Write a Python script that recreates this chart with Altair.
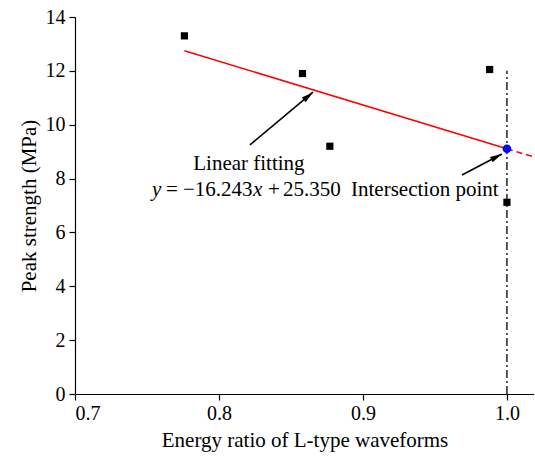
import math
import altair as alt
import pandas as pd

# ---- data ----
ratio = [0.776, 0.858, 0.877, 0.988, 1.000]
strength = [13.3, 11.9, 9.2, 12.05, 7.12]

slope = -16.243
intercept = 25.350
fit_x_solid = [0.776, 1.000]
fit_x_dash = [1.000, 1.0175]
intersect_x = [1.000]
vline_y = [0, 12.0]

x_ticks = [0.7, 0.8, 0.9, 1.0]
y_ticks = [0, 2, 4, 6, 8, 10, 12, 14]

FONT = "Liberation Serif"
X_DOM = [0.7, 1.0188]
Y_DOM = [0, 14]
W, H = 459, 377
px_x = W / (X_DOM[1] - X_DOM[0])
px_y = H / (Y_DOM[1] - Y_DOM[0])

xs = alt.Scale(domain=X_DOM, nice=False, zero=False)
ys = alt.Scale(domain=Y_DOM, nice=False)

xaxis = alt.Axis(values=x_ticks, format=".1f", title="Energy ratio of L-type waveforms",
                 grid=False, tickSize=6, labelPadding=3, titlePadding=6)
yaxis = alt.Axis(values=y_ticks, title="Peak strength (MPa)", grid=False,
                 tickSize=6, labelPadding=4, titlePadding=6)

pts = pd.DataFrame({"x": ratio, "y": strength})
scatter = alt.Chart(pts).mark_point(shape="square", filled=True, size=52, color="black", opacity=1).encode(
    x=alt.X("x:Q", scale=xs, axis=xaxis),
    y=alt.Y("y:Q", scale=ys, axis=yaxis),
)

solid = pd.DataFrame({"x": fit_x_solid, "y": [slope * v + intercept for v in fit_x_solid]})
dash = pd.DataFrame({"x": fit_x_dash, "y": [slope * v + intercept for v in fit_x_dash]})
fit1 = alt.Chart(solid).mark_line(color="#ff0000", strokeWidth=1.6).encode(
    x=alt.X("x:Q", scale=xs), y=alt.Y("y:Q", scale=ys))
fit2 = alt.Chart(dash).mark_line(color="#ff0000", strokeWidth=1.6, strokeDash=[6, 4]).encode(
    x=alt.X("x:Q", scale=xs), y=alt.Y("y:Q", scale=ys))

vl = pd.DataFrame({"x": [1.0, 1.0], "y": vline_y})
vline = alt.Chart(vl).mark_line(color="black", strokeWidth=1.3, strokeDash=[8, 3, 2, 3]).encode(
    x=alt.X("x:Q", scale=xs), y=alt.Y("y:Q", scale=ys))

ip = pd.DataFrame({"x": intersect_x, "y": [slope * v + intercept for v in intersect_x]})
inter = alt.Chart(ip).mark_point(shape="circle", filled=True, size=75, color="#0000ff", opacity=1).encode(
    x=alt.X("x:Q", scale=xs), y=alt.Y("y:Q", scale=ys))

# ---- arrows ----
arrow_tail_x = [0.8215, 0.9688]
arrow_tail_y = [9.25, 8.13]
arrow_tip_x = [0.8653, 0.9965]
arrow_tip_y = [11.21, 8.91]

HEAD_SIZE = 144
head_r = math.sqrt(HEAD_SIZE) / 2  # path units -> pixels

arrow_layers = []
for i in range(2):
    seg = pd.DataFrame({"x": [arrow_tail_x[i], arrow_tip_x[i]], "y": [arrow_tail_y[i], arrow_tip_y[i]]})
    arrow_layers.append(alt.Chart(seg).mark_line(color="black", strokeWidth=1.6).encode(
        x=alt.X("x:Q", scale=xs), y=alt.Y("y:Q", scale=ys)))
    ddx = (arrow_tip_x[i] - arrow_tail_x[i]) * px_x
    ddy = (arrow_tip_y[i] - arrow_tail_y[i]) * px_y
    L = math.hypot(ddx, ddy)
    ang = math.degrees(math.atan2(ddx, ddy)) % 360
    cx = arrow_tip_x[i] - (ddx / L) * head_r / px_x
    cy = arrow_tip_y[i] - (ddy / L) * head_r / px_y
    head = pd.DataFrame({"x": [cx], "y": [cy]})
    arrow_layers.append(alt.Chart(head).mark_point(
        shape="M0,-1L-0.5,1L0.5,1Z", filled=True, size=HEAD_SIZE, color="black", opacity=1, angle=ang
    ).encode(x=alt.X("x:Q", scale=xs), y=alt.Y("y:Q", scale=ys)))

# ---- annotation text ----
lab = pd.DataFrame({"x": [0.8208], "y": [8.32], "t": ["Linear fitting"]})
t_lin = alt.Chart(lab).mark_text(font=FONT, fontSize=21, align="center", baseline="alphabetic", color="black").encode(
    x=alt.X("x:Q", scale=xs), y=alt.Y("y:Q", scale=ys), text="t:N")

lab2 = pd.DataFrame({"x": [0.8917], "y": [7.35], "t": ["Intersection point"]})
t_int = alt.Chart(lab2).mark_text(font=FONT, fontSize=21, align="left", baseline="alphabetic", color="black").encode(
    x=alt.X("x:Q", scale=xs), y=alt.Y("y:Q", scale=ys), text="t:N")

eq_parts = ["y", "=", "\u221216.243", "x", "+", "25.350"]
eq_italic = [True, False, False, True, False, False]
eq_offset = [0, 14, 31, 101, 116, 131]
eq_anchor_x, eq_anchor_y = 0.7535, 7.35
eq = pd.DataFrame({
    "x": [eq_anchor_x + o / px_x for o in eq_offset],
    "y": [eq_anchor_y] * len(eq_parts),
    "t": eq_parts,
    "it": eq_italic,
})
t_eq_i = alt.Chart(eq[eq["it"]]).mark_text(font=FONT, fontSize=21, fontStyle="italic", align="left",
                                           baseline="alphabetic", color="black").encode(
    x=alt.X("x:Q", scale=xs), y=alt.Y("y:Q", scale=ys), text="t:N")
t_eq_n = alt.Chart(eq[~eq["it"]]).mark_text(font=FONT, fontSize=21, align="left",
                                            baseline="alphabetic", color="black").encode(
    x=alt.X("x:Q", scale=xs), y=alt.Y("y:Q", scale=ys), text="t:N")

chart = alt.layer(
    fit1, fit2, vline, scatter, inter, *arrow_layers, t_lin, t_int, t_eq_i, t_eq_n
).properties(
    width=W, height=H,
    background="white",
    autosize=alt.AutoSizeParams(type="none"),
    padding={"left": 75, "top": 17, "right": 0, "bottom": 67},
).configure_view(stroke=None).configure_axis(
    labelFont=FONT, titleFont=FONT, labelFontSize=20, titleFontSize=21,
    labelColor="black", titleColor="black", domainColor="black", tickColor="black",
    titleFontWeight="normal", domainWidth=1.2, tickWidth=1.2,
)

chart.save("out.html", embed_options={"renderer": "svg", "actions": False})
